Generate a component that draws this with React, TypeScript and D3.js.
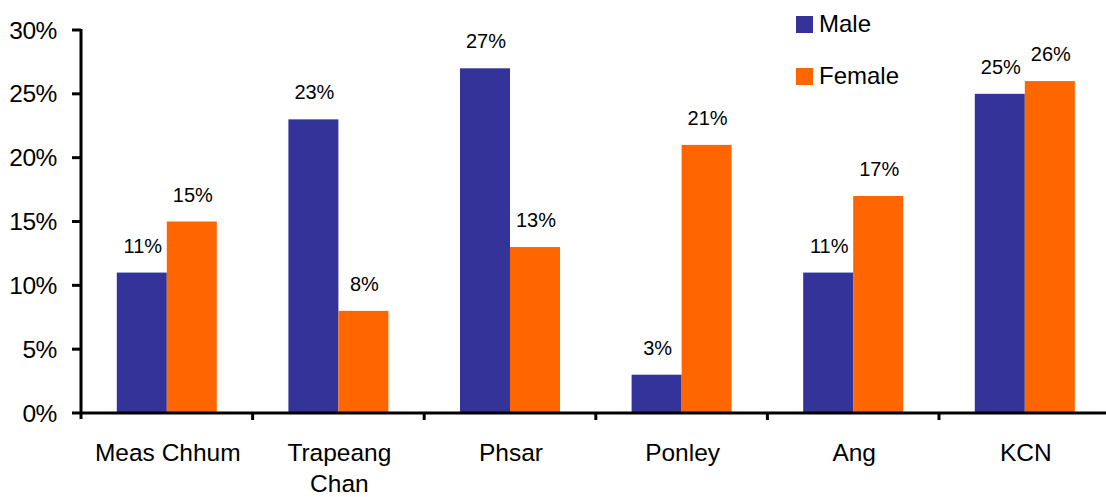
import React from "react";
import * as d3 from "d3";

const categories: string[][] = [
  ["Meas Chhum"],
  ["Trapeang", "Chan"],
  ["Phsar"],
  ["Ponley"],
  ["Ang"],
  ["KCN"],
];
const seriesNames = ["Male", "Female"];
const maleValues = [0.11, 0.23, 0.27, 0.03, 0.11, 0.25];
const femaleValues = [0.15, 0.08, 0.13, 0.21, 0.17, 0.26];
const yTicks = [0, 0.05, 0.1, 0.15, 0.2, 0.25, 0.3];
const colors = ["#333399", "#FF6600"];

const W = 1106;
const H = 497;
const left = 81;
const step = 171.6;
const top = 30;
const bottom = 413;
const font = "'Liberation Sans', Arial, Helvetica, sans-serif";

export default function App() {
  const keys = categories.map((c) => c.join(" "));
  const x = d3
    .scaleBand<string>()
    .domain(keys)
    .range([left, left + step * keys.length])
    .paddingInner(0)
    .paddingOuter(0);
  const x1 = d3
    .scaleBand<string>()
    .domain(seriesNames)
    .range([0, x.bandwidth()])
    .paddingInner(0)
    .paddingOuter(0.716);
  const y = d3.scaleLinear().domain([0, 0.3]).range([bottom, top]);
  const fmt = d3.format(".0%");
  const series = [maleValues, femaleValues];

  return (
    <svg
      width={W}
      height={H}
      style={{ position: "absolute", left: 0, top: 0, background: "#fff" }}
      fontFamily={font}
    >
      {/* bars and value labels */}
      {series.map((vals, si) =>
        vals.map((v, i) => {
          const bx = (x(keys[i]) as number) + (x1(seriesNames[si]) as number);
          const bw = x1.bandwidth();
          return (
            <g key={`${si}-${i}`}>
              <rect
                x={bx}
                y={y(v)}
                width={bw}
                height={bottom - y(v)}
                fill={colors[si]}
              />
              <text
                x={bx + bw / 2 + 1}
                y={y(v) - 20}
                fontSize={20}
                textAnchor="middle"
                fill="#000"
              >
                {fmt(v)}
              </text>
            </g>
          );
        })
      )}

      {/* y axis */}
      <line x1={left} x2={left} y1={top - 1} y2={bottom + 6} stroke="#000" strokeWidth={3} />
      {yTicks.map((t) => (
        <g key={t}>
          <line x1={left - 9} x2={left} y1={y(t)} y2={y(t)} stroke="#000" strokeWidth={3} />
          <text
            x={57}
            y={y(t) + 8.5}
            fontSize={24.5}
            letterSpacing={-0.4}
            textAnchor="end"
            fill="#000"
          >
            {fmt(t)}
          </text>
        </g>
      ))}

      {/* x axis */}
      <line x1={left} x2={W} y1={bottom} y2={bottom} stroke="#000" strokeWidth={3} />
      {keys.slice(1).map((k) => (
        <line
          key={k}
          x1={x(k) as number}
          x2={x(k) as number}
          y1={bottom}
          y2={bottom + 7}
          stroke="#000"
          strokeWidth={3}
        />
      ))}
      {categories.map((lines, i) => {
        const cx = (x(keys[i]) as number) + x.bandwidth() / 2 + 1;
        return (
          <text
            key={keys[i]}
            x={cx}
            y={461}
            fontSize={24.5}
            textAnchor="middle"
            fill="#000"
          >
            {lines.map((ln, li) => (
              <tspan key={li} x={cx} dy={li === 0 ? 0 : 31}>
                {ln}
              </tspan>
            ))}
          </text>
        );
      })}

      {/* legend */}
      {seriesNames.map((name, si) => (
        <g key={name} transform={`translate(796, ${16 + si * 52})`}>
          <rect x={0} y={0} width={17} height={17} fill={colors[si]} />
          <text x={23} y={16} fontSize={24} fill="#000">
            {name}
          </text>
        </g>
      ))}
    </svg>
  );
}
